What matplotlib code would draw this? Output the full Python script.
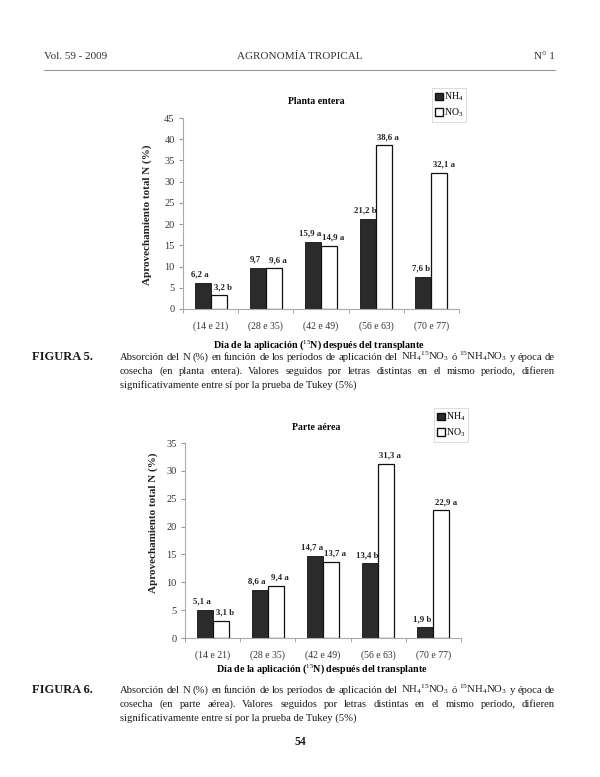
import numpy as np
import matplotlib
matplotlib.use("Agg")
import matplotlib.pyplot as plt
from matplotlib.patches import Patch

plt.rcParams['font.family'] = ['Liberation Serif', 'DejaVu Serif']
plt.rcParams['mathtext.fontset'] = 'custom'
plt.rcParams['mathtext.rm'] = 'Liberation Serif'
plt.rcParams['mathtext.it'] = 'Liberation Serif:italic'
plt.rcParams['mathtext.bf'] = 'Liberation Serif:bold'

periodos = ['(14 e 21)', '(28 e 35)', '(42 e 49)', '(56 e 63)', '(70 e 77)']

# Figura 5 - planta entera
nh4_entera = [6.2, 9.7, 15.9, 21.2, 7.6]
no3_entera = [3.2, 9.6, 14.9, 38.6, 32.1]
lbl_nh4_entera = ['6,2 a', '9,7', '15,9 a', '21,2 b', '7,6 b']
lbl_no3_entera = ['3,2 b', '9,6 a', '14,9 a', '38,6 a', '32,1 a']

# Figura 6 - parte aerea
nh4_aerea = [5.1, 8.6, 14.7, 13.4, 1.9]
no3_aerea = [3.1, 9.4, 13.7, 31.3, 22.9]
lbl_nh4_aerea = ['5,1 a', '8,6 a', '14,7 a', '13,4 b', '1,9 b']
lbl_no3_aerea = ['3,1 b', '9,4 a', '13,7 a', '31,3 a', '22,9 a']

W, H = 600, 777
fig = plt.figure(figsize=(6, 7.77), dpi=100)
cor_nh4 = '#2b2b2b'
cor_txt = '#1a1a1a'


def fx(px):
    return px / W


def fy(py):
    return 1 - py / H


def grafico(rect, nh4, no3, lbl_nh4, lbl_no3, ymax):
    ax = fig.add_axes(rect)
    x = np.arange(len(periodos))
    w = 0.29
    ax.bar(x - w / 2, nh4, w, color=cor_nh4, edgecolor='#111111', linewidth=0.6)
    ax.bar(x + w / 2, no3, w, color='white', edgecolor='#111111', linewidth=0.9)
    for xi, v, t in zip(x, nh4, lbl_nh4):
        ax.annotate(t, (xi - w / 2, v), xytext=(-2, 3), textcoords='offset points',
                    ha='center', va='bottom', fontsize=6.3, fontweight='bold', color='#222')
    for xi, v, t in zip(x, no3, lbl_no3):
        ax.annotate(t, (xi + w / 2, v), xytext=(3, 3), textcoords='offset points',
                    ha='center', va='bottom', fontsize=6.3, fontweight='bold', color='#222')
    ax.set_xlim(-0.5, len(periodos) - 0.5)
    ax.set_ylim(0, ymax)
    ax.set_yticks(np.arange(0, ymax + 1, 5))
    ax.set_xticks(x)
    ax.set_xticklabels(periodos)
    ax.set_xticks(np.arange(-0.5, len(periodos), 1), minor=True)
    ax.tick_params(axis='x', which='major', length=0, pad=9, labelsize=7, colors='#333')
    ax.tick_params(axis='x', which='minor', length=3, color='#999')
    ax.tick_params(axis='y', length=3, color='#999', labelsize=7.5, labelcolor='#333', pad=3)
    for s in ['top', 'right']:
        ax.spines[s].set_visible(False)
    for s in ['left', 'bottom']:
        ax.spines[s].set_color('#aaaaaa')
        ax.spines[s].set_linewidth(0.8)
    return ax


def justificar(words, x0, x1, y, size):
    r = fig.canvas.get_renderer()
    ts = [fig.text(0, fy(y), wd, fontsize=size, va='baseline', color=cor_txt) for wd in words]
    larg = [t.get_window_extent(r).width for t in ts]
    esp = (x1 - x0 - sum(larg)) / max(len(words) - 1, 1)
    pos = x0
    for t, lw in zip(ts, larg):
        t.set_x(fx(pos))
        pos += lw + esp


def legenda(x, y):
    h = [Patch(facecolor=cor_nh4, edgecolor='#111'), Patch(facecolor='white', edgecolor='#111')]
    lg = fig.legend(h, [r'NH$_4$', r'NO$_3$'], loc='upper left', bbox_to_anchor=(fx(x), fy(y)),
                    fontsize=7, frameon=True, fancybox=False, handlelength=0.8, handleheight=0.8,
                    handletextpad=0.1, borderpad=0.3, labelspacing=0.3, borderaxespad=0)
    lg.get_frame().set_edgecolor('#cccccc')
    lg.get_frame().set_linewidth(0.6)


tam_cap = 7.7
linha1 = ['Absorción', 'del', 'N', '(%)', 'en', 'función', 'de', 'los', 'períodos', 'de', 'aplicación',
          'del', r'NH$_4$$^{15}$NO$_3$', 'ó', r'$^{15}$NH$_4$NO$_3$', 'y', 'época', 'de']
linha3 = 'significativamente entre sí por la prueba de Tukey (5%)'
xlabel = r'Día de la aplicación ($^{15}$N) después del transplante'
ylabel = 'Aprovechamiento total N (%)'

# cabecalho
fig.text(fx(44), fy(59), 'Vol. 59 - 2009', fontsize=8, color='#333')
fig.text(fx(300), fy(59), 'AGRONOMÍA TROPICAL', fontsize=8, ha='center', color='#333')
fig.text(fx(555), fy(59), 'N° 1', fontsize=8, ha='right', color='#333')
fig.add_artist(plt.Line2D([fx(44), fx(555)], [fy(70), fy(70)], color='#999', lw=0.8))

# figura 5
grafico([fx(183), fy(309), fx(459) - fx(183), fy(118) - fy(309)],
        nh4_entera, no3_entera, lbl_nh4_entera, lbl_no3_entera, 45)
fig.text(fx(316), fy(101), 'Planta entera', fontsize=7, fontweight='bold', ha='center', va='center')
fig.text(fx(147), fy(215), ylabel, fontsize=8, fontweight='bold',
         rotation=90, ha='center', va='center', color='#222')
fig.text(fx(319), fy(345), xlabel, fontsize=7.2, fontweight='bold', ha='center', va='center')
legenda(432, 88)
fig.text(fx(32), fy(360), 'FIGURA 5.', fontsize=9, fontweight='bold', color=cor_txt)
justificar(linha1, 120, 555, 360, tam_cap)
justificar(['cosecha', '(en', 'planta', 'entera).', 'Valores', 'seguidos', 'por', 'letras', 'distintas',
            'en', 'el', 'mismo', 'período,', 'difieren'], 120, 555, 374, tam_cap)
fig.text(fx(120), fy(388), linha3, fontsize=tam_cap, color=cor_txt)

# figura 6
grafico([fx(185), fy(638), fx(461) - fx(185), fy(443) - fy(638)],
        nh4_aerea, no3_aerea, lbl_nh4_aerea, lbl_no3_aerea, 35)
fig.text(fx(316), fy(428), 'Parte aérea', fontsize=7, fontweight='bold', ha='center', va='center')
fig.text(fx(153), fy(523), ylabel, fontsize=8, fontweight='bold',
         rotation=90, ha='center', va='center', color='#222')
fig.text(fx(322), fy(669), xlabel, fontsize=7.2, fontweight='bold', ha='center', va='center')
legenda(434, 408)
fig.text(fx(32), fy(693), 'FIGURA 6.', fontsize=9, fontweight='bold', color=cor_txt)
justificar(linha1, 120, 555, 693, tam_cap)
justificar(['cosecha', '(en', 'parte', 'aérea).', 'Valores', 'seguidos', 'por', 'letras', 'distintas',
            'en', 'el', 'mismo', 'período,', 'difieren'], 120, 555, 707, tam_cap)
fig.text(fx(120), fy(721), linha3, fontsize=tam_cap, color=cor_txt)

fig.text(fx(300), fy(745), '54', fontsize=8.5, fontweight='bold', ha='center', color=cor_txt)

fig.savefig('out.png', dpi=100)
